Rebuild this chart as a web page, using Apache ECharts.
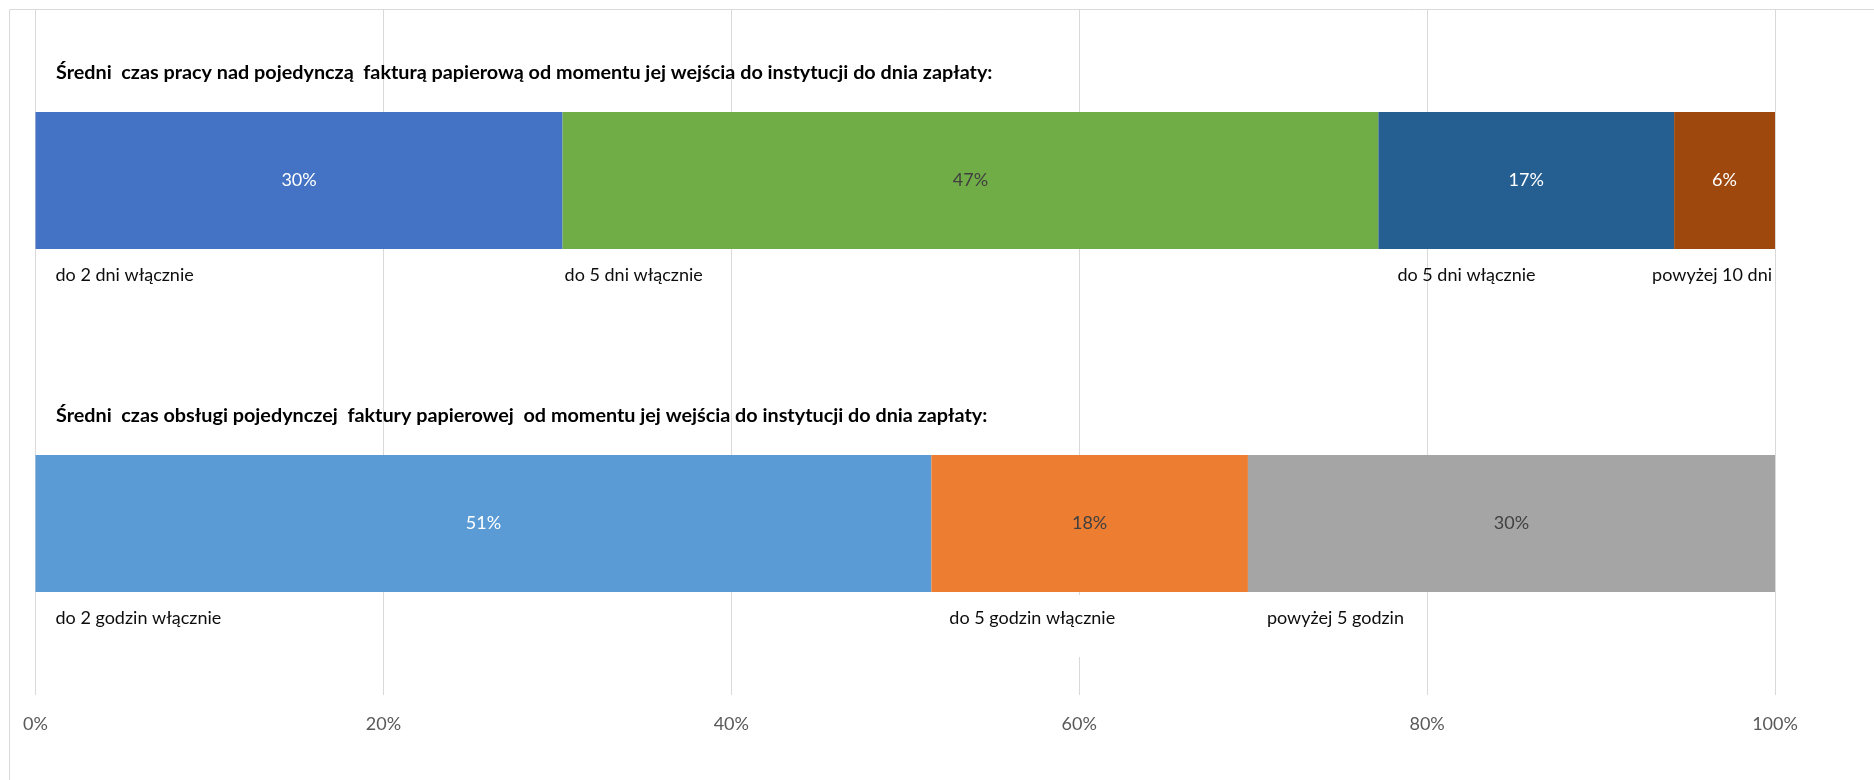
<!DOCTYPE html>
<html>
<head>
<meta charset="utf-8">
<script src="https://cdn.jsdelivr.net/npm/echarts@6/dist/echarts.min.js"></script>
<style>
  html, body { margin: 0; padding: 0; background: #fff; }
  #chart { width: 1874px; height: 780px; }
</style>
</head>
<body>
<div id="chart"></div>
<script>
// row titles
var titles = [
  'Średni  czas pracy nad pojedynczą  fakturą papierową od momentu jej wejścia do instytucji do dnia zapłaty:',
  'Średni  czas obsługi pojedynczej  faktury papierowej  od momentu jej wejścia do instytucji do dnia zapłaty:'
];
var rows = ['praca', 'obsluga'];

// row 1 - czas pracy
var names1 = ['do 2 dni włącznie', 'do 5 dni włącznie', 'do 5 dni włącznie', 'powyżej 10 dni'];
var values1 = [30.3, 46.9, 17.0, 5.8];
var pct1 = ['30%', '47%', '17%', '6%'];

// row 2 - czas obslugi
var names2 = ['do 2 godzin włącznie', 'do 5 godzin włącznie', 'powyżej 5 godzin'];
var values2 = [51.5, 18.2, 30.3];
var pct2 = ['51%', '18%', '30%'];

var ticks = [0, 20, 40, 60, 80, 100];

var colors1 = ['#4472C4', '#70AD47', '#255E91', '#9E480E'];
var colors2 = ['#5B9BD5', '#ED7D31', '#A5A5A5'];
var labelColors1 = ['#fff', '#404040', '#fff', '#fff'];
var labelColors2 = ['#fff', '#404040', '#404040'];
// where the category text sits relative to its segment
var nameOffsets1 = [20, 2, 19, -3];
var nameOffsets2 = [20, 18, 19];

var FONT = 'Lato, "Noto Sans", sans-serif';

var chart = echarts.init(document.getElementById('chart'), null, { renderer: 'canvas' });

function makeSeries(values, colors, labelColors, pct, rowIdx) {
  return values.map(function (v, i) {
    var data = rows.map(function (r, k) { return k === rowIdx ? v : '-'; });
    return {
      type: 'bar',
      stack: 'total',
      barWidth: '40%',
      data: data,
      itemStyle: { color: colors[i] },
      label: {
        show: true,
        position: 'inside',
        color: labelColors[i],
        fontFamily: FONT,
        fontSize: 18,
        formatter: function () { return pct[i]; }
      }
    };
  });
}

var option = {
  backgroundColor: '#ffffff',
  animation: false,
  grid: { left: 35.5, right: 99, top: 9, bottom: 85, containLabel: false },
  xAxis: {
    type: 'value',
    min: ticks[0],
    max: ticks[ticks.length - 1],
    interval: ticks[1] - ticks[0],
    axisLine: { show: false },
    axisTick: { show: false },
    splitLine: { lineStyle: { color: '#d9d9d9', width: 1 } },
    axisLabel: {
      formatter: '{value}%',
      color: '#595959',
      fontFamily: FONT,
      fontSize: 18,
      margin: 20
    }
  },
  yAxis: {
    type: 'category',
    data: rows,
    inverse: true,
    show: false
  },
  series: makeSeries(values1, colors1, labelColors1, pct1, 0)
    .concat(makeSeries(values2, colors2, labelColors2, pct2, 1))
};

chart.setOption(option);

// titles and category texts placed from the axes
var gridH = 780 - 9 - 85;
var halfBar = gridH / rows.length * 0.4 / 2;
var graphics = [{
  type: 'rect',
  z: -10,
  shape: { x: 9.5, y: 9.5, width: 1900, height: 800 },
  style: { fill: null, stroke: '#d9d9d9', lineWidth: 1 }
}];

function addRow(rowIdx, values, names, offsets) {
  var yc = chart.convertToPixel({ yAxisIndex: 0 }, rows[rowIdx]);
  graphics.push({
    type: 'text',
    z: 10,
    x: 56, y: yc - halfBar - 39,
    style: {
      text: titles[rowIdx],
      font: 'bold 19.8px ' + FONT,
      fill: '#000',
      textAlign: 'left',
      textVerticalAlign: 'middle'
    }
  });
  var start = 0;
  values.forEach(function (v, i) {
    var last = i === values.length - 1 && offsets[i] < 0;
    var px = last ? chart.convertToPixel({ xAxisIndex: 0 }, start + v)
                  : chart.convertToPixel({ xAxisIndex: 0 }, start);
    var x = px + offsets[i];
    var y = yc + halfBar + 26;
    if (rowIdx === 1 && i === 1) {
      // white label box hides the 60% gridline under it, as in the original
      graphics.push({
        type: 'rect', z: 9,
        shape: { x: x - 8, y: yc + halfBar + 3, width: 200, height: 62 },
        style: { fill: '#fff' }
      });
    }
    graphics.push({
      type: 'text', z: 10, x: x, y: y,
      style: {
        text: names[i],
        font: '18px ' + FONT,
        fill: '#0d0d0d',
        textAlign: last ? 'right' : 'left',
        textVerticalAlign: 'middle'
      }
    });
    start += v;
  });
}

addRow(0, values1, names1, nameOffsets1);
addRow(1, values2, names2, nameOffsets2);

chart.setOption({ graphic: graphics });
</script>
</body>
</html>
